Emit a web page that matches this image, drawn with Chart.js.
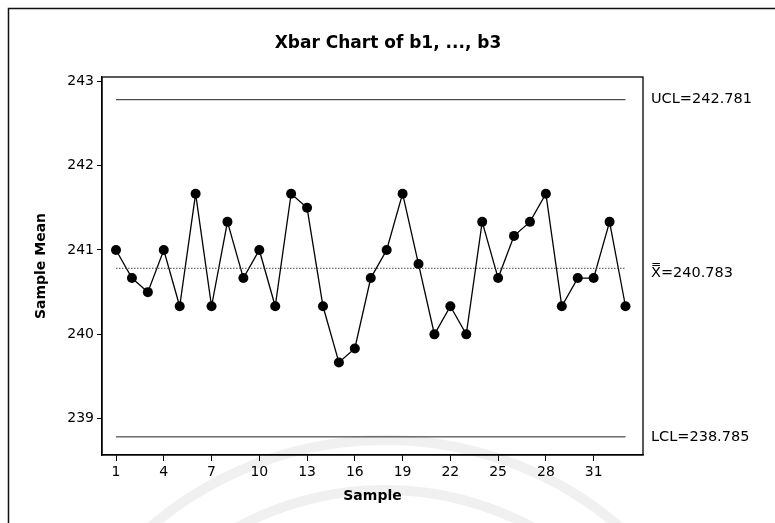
<!DOCTYPE html>
<html lang="en">
<head>
  <meta charset="UTF-8" />
  <title>Xbar Chart of b1, ..., b3</title>
  <script src="https://cdn.jsdelivr.net/npm/chart.js"></script>
  <style>
    html, body { margin: 0; padding: 0; background: #fff; }
    #chartBox { width: 775px; height: 523px; }
  </style>
</head>
<body>
  <div id="chartBox">
    <canvas id="xbarChart" width="775" height="523"></canvas>
  </div>
  <script>
    // subgroup means, one per sample
    const sampleNo = [1, 2, 3, 4, 5, 6, 7, 8, 9, 10, 11, 12, 13, 14, 15, 16, 17,
                      18, 19, 20, 21, 22, 23, 24, 25, 26, 27, 28, 29, 30, 31, 32, 33];
    const sampleMeans = [
      241.000, 240.667, 240.500, 241.000, 240.333, 241.667, 240.333, 241.333,
      240.667, 241.000, 240.333, 241.667, 241.500, 240.333, 239.667, 239.833,
      240.667, 241.000, 241.667, 240.833, 240.000, 240.333, 240.000, 241.333,
      240.667, 241.167, 241.333, 241.667, 240.333, 240.667, 240.667, 241.333,
      240.333
    ];

    // control limits
    const centerLine = 240.783;
    const upperLimit = 242.781;
    const lowerLimit = 238.785;
    const limitLabels = ["UCL=242.781", "X\u033F=240.783", "LCL=238.785"];

    const xTicks = [1, 4, 7, 10, 13, 16, 19, 22, 25, 28, 31];
    const yTicks = [239, 240, 241, 242, 243];

    const chartTitle = "Xbar Chart of b1, ..., b3";

    const firstNo = sampleNo[0];
    const lastNo = sampleNo[sampleNo.length - 1];
    const flatLine = v => [{ x: firstNo, y: v }, { x: lastNo, y: v }];

    const tickFont = { family: "'DejaVu Sans', sans-serif", size: 14 };
    const boldFont = { family: "'DejaVu Sans', sans-serif", size: 14, weight: "bold" };

    // page frame, faint stamp, title, plot border and limit labels
    const framePlugin = {
      id: "frame",
      beforeDraw(chart) {
        const ctx = chart.ctx;
        ctx.save();
        ctx.fillStyle = "#fff";
        ctx.fillRect(0, 0, chart.width, chart.height);

        // faint stamp showing through the paper
        ctx.strokeStyle = "rgba(0,0,0,0.06)";
        ctx.lineWidth = 10;
        [360, 310].forEach(r => {
          ctx.beginPath();
          ctx.arc(385, 800, r, Math.PI * 1.1, Math.PI * 1.9);
          ctx.stroke();
        });

        ctx.strokeStyle = "#111";
        ctx.lineWidth = 1.5;
        ctx.beginPath();
        ctx.moveTo(8.5, chart.height);
        ctx.lineTo(8.5, 8.5);
        ctx.lineTo(chart.width, 8.5);
        ctx.stroke();

        ctx.fillStyle = "#000";
        ctx.font = "bold 17px 'DejaVu Sans', sans-serif";
        ctx.textAlign = "center";
        ctx.textBaseline = "middle";
        ctx.fillText(chartTitle, 388, 44);
        ctx.restore();
      },
      afterDraw(chart) {
        const ctx = chart.ctx;
        const a = chart.chartArea;
        const y = chart.scales.y;
        ctx.save();
        ctx.strokeStyle = "#000";
        ctx.lineWidth = 1.3;
        ctx.strokeRect(a.left, a.top, a.right - a.left, a.bottom - a.top);

        ctx.fillStyle = "#000";
        ctx.font = "14.5px 'DejaVu Sans', sans-serif";
        ctx.textBaseline = "middle";
        ctx.textAlign = "left";
        [upperLimit, centerLine, lowerLimit].forEach((v, i) => {
          const dy = i === 1 ? 5 : 0;
          ctx.fillText(limitLabels[i], a.right + 8, y.getPixelForValue(v) + dy);
        });
        ctx.restore();
      }
    };

    new Chart(document.getElementById("xbarChart"), {
      type: "line",
      data: {
        datasets: [
          {
            label: "UCL",
            data: flatLine(upperLimit),
            borderColor: "#222",
            borderWidth: 1,
            pointRadius: 0
          },
          {
            label: "Center",
            data: flatLine(centerLine),
            borderColor: "#444",
            borderWidth: 1,
            borderDash: [1.5, 1.5],
            pointRadius: 0
          },
          {
            label: "LCL",
            data: flatLine(lowerLimit),
            borderColor: "#222",
            borderWidth: 1,
            pointRadius: 0
          },
          {
            label: "Sample Mean",
            data: sampleNo.map((n, i) => ({ x: n, y: sampleMeans[i] })),
            borderColor: "#000",
            borderWidth: 1.3,
            tension: 0,
            pointRadius: 5,
            pointBackgroundColor: "#000",
            pointBorderColor: "#000",
            pointBorderWidth: 0
          }
        ]
      },
      options: {
        responsive: false,
        animation: false,
        layout: { padding: { left: 33, right: 132, top: 77, bottom: 18 } },
        plugins: {
          legend: { display: false },
          tooltip: { enabled: false },
          title: { display: false }
        },
        scales: {
          x: {
            type: "linear",
            min: 0.12,
            max: 34.1,
            afterBuildTicks: s => { s.ticks = xTicks.map(v => ({ value: v })); },
            afterFit: s => { s.height = 50; },
            ticks: { color: "#000", font: tickFont, padding: 3, maxRotation: 0, autoSkip: false },
            grid: { drawOnChartArea: false, drawTicks: true, tickLength: 6, color: "#000" },
            border: { color: "#000", width: 1.3 },
            title: { display: true, text: "Sample", color: "#000", font: boldFont, padding: 0 }
          },
          y: {
            min: 238.57,
            max: 243.05,
            afterBuildTicks: s => { s.ticks = yTicks.map(v => ({ value: v })); },
            afterFit: s => { s.width = 69; },
            ticks: { color: "#000", font: tickFont, padding: 3 },
            grid: { drawOnChartArea: false, drawTicks: true, tickLength: 5, color: "#000" },
            border: { color: "#000", width: 1.3 },
            title: { display: true, text: "Sample Mean", color: "#000", font: boldFont, padding: 0 }
          }
        }
      },
      plugins: [framePlugin]
    });
  </script>
</body>
</html>
